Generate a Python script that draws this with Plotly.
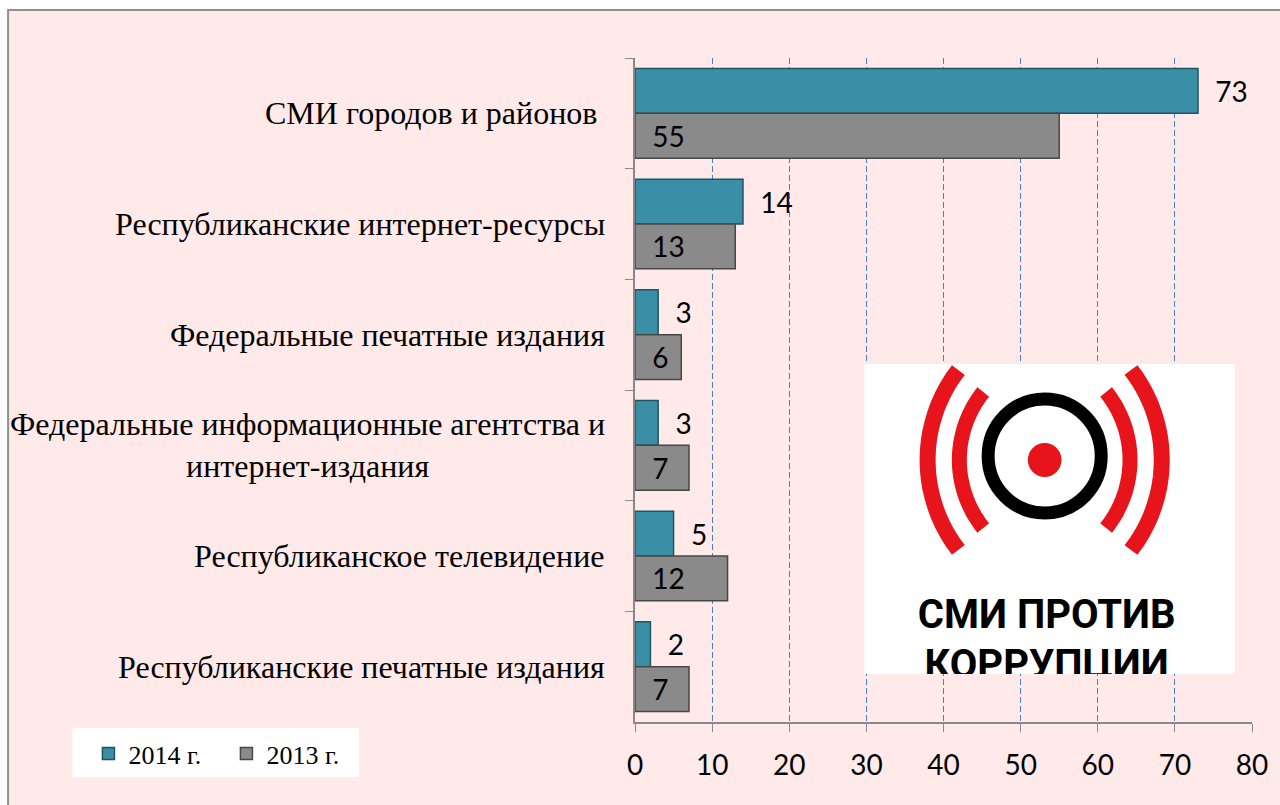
import numpy as np
import plotly.graph_objects as go

# data
categories = [
    "СМИ городов и районов ",
    "Республиканские интернет-ресурсы",
    "Федеральные печатные издания",
    "Федеральные информационные агентства и<br>интернет-издания",
    "Республиканское телевидение",
    "Республиканские печатные издания",
]
v2014 = [73, 14, 3, 3, 5, 2]
v2013 = [55, 13, 6, 7, 12, 7]
series_names = ["2014 г.", "2013 г."]
x_ticks = [0, 10, 20, 30, 40, 50, 60, 70, 80]

W, H = 1280, 805
L, R, T, B = 635, 23, 58, 83
PW, PH = W - L - R, H - T - B


def px(x):
    return (x - L) / PW


def py(y):
    return (H - B - y) / PH


SERIF = "Liberation Serif, Times New Roman, serif"
SANS = "Lato, Carlito, sans-serif"

fig = go.Figure()
fig.add_trace(go.Bar(
    y=categories, x=v2014, name=series_names[0], orientation="h",
    marker=dict(color="#3A8FA7", line=dict(color="#1E5463", width=1.5)),
    texttemplate="\u00a0\u00a0%{x}", textposition="outside",
    textfont=dict(family=SANS, size=28, color="black"), cliponaxis=False,
))
fig.add_trace(go.Bar(
    y=categories, x=v2013, name=series_names[1], orientation="h",
    marker=dict(color="#8A8A8A", line=dict(color="#474747", width=1.5)),
    texttemplate="\u00a0\u00a0%{x}", textposition="inside", insidetextanchor="start",
    insidetextfont=dict(family=SANS, size=28, color="black"),
    textfont=dict(family=SANS, size=28, color="black"), cliponaxis=False,
))

# logo "СМИ против коррупции" on its own hidden axes (pixel units)
LX0, LX1, LY0, LY1 = 866, 1240, 364, 674
fig.add_trace(go.Scatter(
    x=[1050, 1050], y=[618, 668], mode="text",
    text=["СМИ ПРОТИВ", "КОРРУПЦИИ"],
    textfont=dict(family="Roboto", size=40, weight="bold", color="black"),
    xaxis="x3", yaxis="y3", cliponaxis=True, showlegend=False, hoverinfo="skip",
))

shapes = [
    # pink panel with grey frame
    dict(type="rect", xref="paper", yref="paper", layer="below",
         x0=px(3), x1=px(1290), y0=py(815), y1=py(10),
         fillcolor="#FFE9E9", line=dict(color="#8F8F8F", width=2)),
    # legend box
    dict(type="rect", xref="paper", yref="paper", layer="below",
         x0=px(68), x1=px(357), y0=py(777), y1=py(728),
         fillcolor="white", line=dict(width=0)),
    # logo background
    dict(type="rect", xref="x3", yref="y3", layer="below",
         x0=LX0, x1=LX1, y0=LY0, y1=LY1, fillcolor="white", line=dict(width=0)),
    # ring and dot
    dict(type="circle", xref="x3", yref="y3", layer="below",
         x0=1048 - 57, x1=1048 + 57, y0=456 - 57, y1=456 + 57,
         line=dict(color="black", width=13)),
    dict(type="circle", xref="x3", yref="y3", layer="below",
         x0=1048 - 17, x1=1048 + 17, y0=460 - 17, y1=460 + 17,
         fillcolor="#E8141B", line=dict(width=0)),
]


def arc_path(cx, cy, r, deg, side):
    a = np.radians(np.linspace(-deg, deg, 40))
    xs = cx + side * r * np.cos(a)
    ys = cy + r * np.sin(a)
    return "M" + " L".join(f"{x:.1f},{y:.1f}" for x, y in zip(xs, ys))


for off, r, deg, w in [(-22, 108, 39, 15), (-28, 146, 38, 16)]:
    for side in (1, -1):
        shapes.append(dict(type="path", xref="x3", yref="y3", layer="below",
                           path=arc_path(1048 + side * off, 460, r, deg, side),
                           line=dict(color="#E8141B", width=w)))

# category labels (centered multi-line, right aligned block)
annotations = [
    dict(x=px(607), y=c, xref="paper", yref="y", text=c, showarrow=False,
         xanchor="right", align="center",
         font=dict(family=SERIF, size=32, color="black"))
    for c in categories
]

fig.update_layout(
    width=W, height=H,
    margin=dict(l=L, r=R, t=T, b=B),
    paper_bgcolor="white", plot_bgcolor="rgba(0,0,0,0)",
    barmode="group", bargap=0.19, bargroupgap=0,
    shapes=shapes, annotations=annotations,
    legend=dict(orientation="h", x=px(84), y=py(730), xanchor="left", yanchor="top",
                bgcolor="rgba(0,0,0,0)", traceorder="normal",
                font=dict(family=SERIF, size=26, color="black"),
                entrywidth=93, itemwidth=30),
    xaxis=dict(range=[0, 80], tickvals=x_ticks, showgrid=True, gridcolor="#4A7FC9",
               griddash="6px,3px", gridwidth=1, zeroline=False,
               showline=True, linecolor="#888888", linewidth=1.5,
               ticks="outside", ticklen=8, tickcolor="#888888",
               tickfont=dict(family=SANS, size=28, color="black"),
               ticklabelstandoff=10, fixedrange=True),
    yaxis=dict(type="category", categoryorder="array", categoryarray=categories,
               range=[5.5, -0.5], showticklabels=False, tickson="boundaries",
               ticks="outside", ticklen=8, tickcolor="#888888",
               showline=True, linecolor="#888888", linewidth=1.5,
               showgrid=False, zeroline=False, fixedrange=True),
    xaxis3=dict(domain=[px(LX0), px(LX1)], range=[LX0, LX1], anchor="y3",
                visible=False, fixedrange=True),
    yaxis3=dict(domain=[py(LY1), py(LY0)], range=[LY1, LY0], anchor="x3",
                visible=False, fixedrange=True),
)

fig.write_html("out.html", config={"displayModeBar": False},
               post_script="document.body.style.margin='0';")
